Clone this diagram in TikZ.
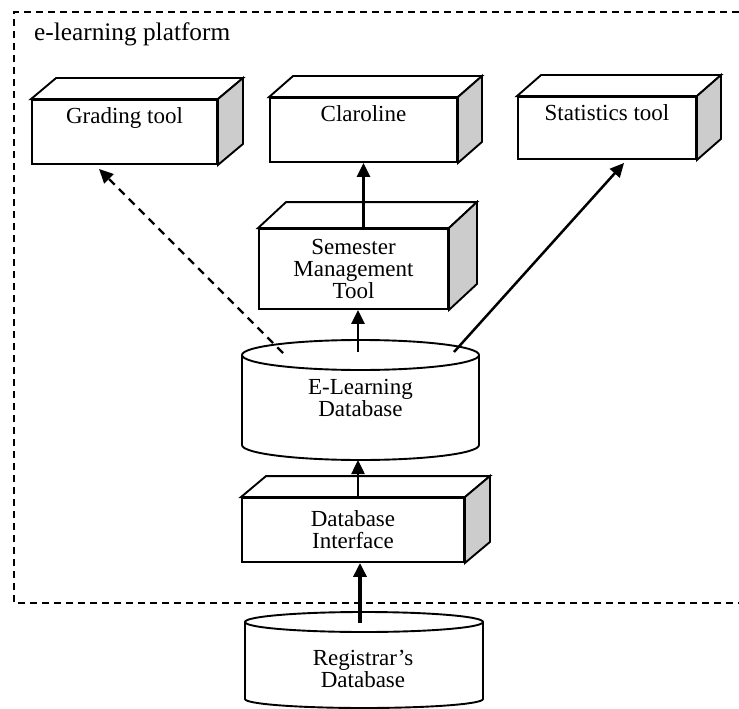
\documentclass[tikz,border=0pt]{standalone}
\usepackage{fontspec}
\setmainfont{Liberation Serif}
\usetikzlibrary{arrows.meta}
\newcommand{\cubeface}[3]{%
  \draw[boxline, fill=white] (#1.north west) -- ++(#2,-#3) -- ([shift={(#2,-#3)}]#1.north east) -- (#1.north east) -- cycle;
  \draw[boxline, fill=gray!40] (#1.north east) -- ++(#2,-#3) -- ([shift={(#2,-#3)}]#1.south east) -- (#1.south east) -- cycle;
}
\begin{document}
\begin{tikzpicture}[x=1pt,y=-1pt,
  boxline/.style={line width=1.9pt},
  cube/.style={draw, boxline, fill=white, rectangle, inner sep=0pt, align=center, font=\fontsize{23}{22}\selectfont},
  topcube/.style={cube, text height=23.5pt, text depth=#1},
  lbl/.style={font=\fontsize{23}{22}\selectfont, align=center, inner sep=0pt},
  arr/.style={line width=2.5pt, -{Triangle[length=14pt,width=13pt]}},
  frame/.style={line width=1.5pt, dash pattern=on 7pt off 5pt},
  ]
\useasboundingbox (0,0) rectangle (739,709);

% frame
\draw[frame] (739,12) -- (14,12) -- (14,603) -- (739,603);
\node[anchor=base west, inner sep=0pt, font=\fontsize{25.3}{25}\selectfont] (title) at (34,41) {e-learning platform};

% top boxes
\node[topcube=40.5pt, minimum width=185pt, minimum height=64pt] (grade) at (124.5,132) {Grading tool};
\cubeface{grade}{25}{21}
\node[topcube=40.5pt, minimum width=187pt, minimum height=64pt] (claro) at (363.5,130) {Claroline};
\cubeface{claro}{24}{21}
\node[topcube=38.5pt, minimum width=178pt, minimum height=62pt] (stats) at (607,128) {Statistics tool};
\cubeface{stats}{24}{21}

% semester
\node[cube, minimum width=189pt, minimum height=80pt] (sem) at (353.5,269) {Semester\\Management\\Tool};
\cubeface{sem}{28}{26}

% e-learning database cylinder
\draw[boxline, fill=white] (242,355) -- (242,445) arc[start angle=180,end angle=0,x radius=118.5,y radius=15] -- (479,355);
\draw[boxline, fill=white] (360.5,355) ellipse[x radius=118.5, y radius=15];
\node[lbl] (elearn) at (360.5,398) {E-Learning\\Database};
\coordinate (eltop) at (358,352);
\coordinate (elbot) at (358,460);
\coordinate (elgl) at (283,353);
\coordinate (elst) at (454,352);

% database interface
\node[cube, minimum width=222pt, minimum height=64pt] (dbi) at (353,530) {Database\\Interface};
\cubeface{dbi}{25}{21}

% registrar cylinder
\draw[boxline, fill=white] (245,622) -- (245,699) arc[start angle=180,end angle=0,x radius=119,y radius=9] -- (483,622);
\draw[boxline, fill=white] (364,622) ellipse[x radius=119, y radius=10];
\node[lbl] (reg) at (363,669) {Registrar’s\\Database};
\coordinate (regtop) at (360,623);

% connectors
\coordinate (gtip) at ([shift={(68,4)}]grade.south west);
\coordinate (stip) at ([shift={(107,3)}]stats.south west);
\draw[arr] (sem.north -| claro.south) -- (claro.south);
\draw[arr] (eltop) -- (eltop |- sem.south);
\draw[arr] (dbi.north -| elbot) -- (elbot);
\draw[arr, line width=3.4pt] (regtop) -- (regtop |- dbi.south);
\draw[arr, line width=2.3pt, dash pattern=on 8pt off 6pt] (elgl) -- (gtip);
\draw[arr] (elst) -- (stip);
\end{tikzpicture}
\end{document}
